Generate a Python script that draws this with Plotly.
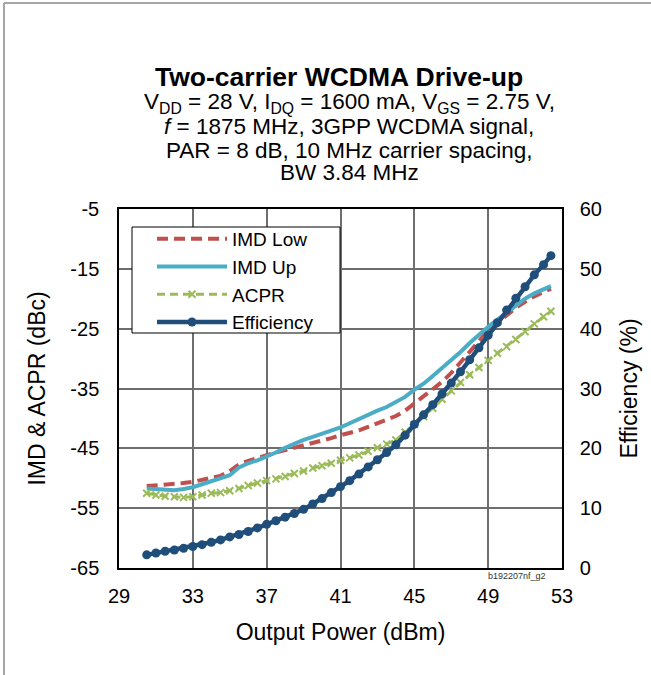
import plotly.graph_objects as go

# Output power (dBm)
pout = [30.5, 31.0, 31.5, 32.0, 32.5, 33.0, 33.5, 34.0, 34.5, 35.0,
        35.5, 36.0, 36.5, 37.0, 37.5, 38.0, 38.5, 39.0, 39.5, 40.0,
        40.5, 41.0, 41.5, 42.0, 42.5, 43.0, 43.5, 44.0, 44.5, 45.0,
        45.5, 46.0, 46.5, 47.0, 47.5, 48.0, 48.5, 49.0, 49.5, 50.0,
        50.5, 51.0, 51.5, 52.0, 52.4]

imd_low = [-51.3, -51.2, -51.1, -51.0, -50.8, -50.6, -50.3, -50.0, -49.6, -48.8,
           -47.7, -47.1, -46.6, -46.1, -45.7, -45.3, -44.9, -44.5, -44.1, -43.8,
           -43.3, -42.8, -42.4, -42.0, -41.4, -40.8, -40.2, -39.6, -38.7, -37.5,
           -36.4, -35.3, -33.9, -32.4, -30.7, -29.0, -27.1, -25.3, -23.9, -22.8,
           -21.5, -20.5, -19.6, -18.9, -18.3]

imd_up = [-51.7, -51.8, -52.0, -52.0, -51.8, -51.5, -51.0, -50.5, -50.1, -49.5,
          -48.2, -47.5, -47.0, -46.4, -45.7, -44.9, -44.2, -43.6, -43.1, -42.6,
          -42.1, -41.5, -40.8, -40.1, -39.3, -38.7, -38.1, -37.3, -36.4, -35.2,
          -34.2, -32.9, -31.6, -30.3, -28.9, -27.4, -26.0, -24.7, -23.5, -22.3,
          -21.1, -20.0, -19.1, -18.4, -17.9]

acpr = [-52.5, -52.8, -53.0, -53.1, -53.2, -53.1, -52.8, -52.5, -52.4, -52.1,
        -51.7, -51.2, -50.8, -50.4, -50.1, -49.7, -49.2, -48.8, -48.3, -47.9,
        -47.5, -47.0, -46.6, -46.1, -45.5, -44.9, -44.3, -43.6, -42.3, -41.0,
        -39.7, -38.3, -36.8, -35.4, -34.0, -32.7, -31.5, -30.3, -29.1, -28.0,
        -26.8, -25.5, -24.2, -23.0, -22.1]

efficiency = [2.2, 2.5, 2.8, 3.0, 3.3, 3.6, 3.9, 4.3, 4.7, 5.2,
              5.6, 6.1, 6.7, 7.3, 7.9, 8.5, 9.1, 9.8, 10.7, 11.6,
              12.6, 13.6, 14.6, 15.7, 16.9, 18.1, 19.3, 20.6, 22.2, 24.0,
              25.6, 27.3, 29.1, 30.9, 32.8, 34.8, 36.8, 38.9, 41.0, 43.1,
              45.1, 47.0, 49.0, 50.7, 52.2]

x_ticks = [29, 33, 37, 41, 45, 49, 53]
y_left_ticks = [-65, -55, -45, -35, -25, -15, -5]
y_right_ticks = [0, 10, 20, 30, 40, 50, 60]

FONT = "Liberation Sans, Arial, sans-serif"
W, H = 651, 675
ML, MR, MT, MB = 119, 89, 209, 107
PW, PH = W - ML - MR, H - MT - MB


def px(xpix):
    return (xpix - ML) / PW


def py(ypix):
    return (H - MB - ypix) / PH


fig = go.Figure()
fig.add_trace(go.Scatter(x=pout, y=imd_low, name="IMD Low", mode="lines",
                         line=dict(color="#C0504D", width=4, dash="11px,6px")))
fig.add_trace(go.Scatter(x=pout, y=imd_up, name="IMD Up", mode="lines",
                         line=dict(color="#4BACC6", width=4)))
fig.add_trace(go.Scatter(x=pout, y=acpr, name="ACPR", mode="lines+markers",
                         line=dict(color="#9BBB59", width=3, dash="8px,5px"),
                         marker=dict(symbol="x-thin", size=7,
                                     line=dict(color="#9BBB59", width=2))))
fig.add_trace(go.Scatter(x=pout, y=efficiency, name="Efficiency", mode="lines+markers",
                         yaxis="y2",
                         line=dict(color="#1F4E7A", width=4.5),
                         marker=dict(symbol="circle", size=9, color="#1F4E7A")))

axis_common = dict(
    showline=True, linecolor="black", linewidth=1.5,
    tickfont=dict(family=FONT, size=20, color="black"),
    ticks="outside", tickcolor="rgba(0,0,0,0)",
    zeroline=False,
)

fig.update_layout(
    width=W, height=H,
    margin=dict(l=ML, r=MR, t=MT, b=MB),
    paper_bgcolor="white", plot_bgcolor="white",
    font=dict(family=FONT, color="black"),
    showlegend=True,
    legend=dict(x=px(132), y=py(220), xanchor="left", yanchor="top",
                bgcolor="rgba(0,0,0,0)", borderwidth=0,
                font=dict(family=FONT, size=19, color="black"),
                itemwidth=70, indentation=20, tracegroupgap=0),
    xaxis=dict(range=[29, 53], tickvals=x_ticks, ticktext=[str(v) for v in x_ticks],
               showgrid=True, gridcolor="#6e6e6e", gridwidth=1.5, mirror=True, ticklen=9,
               title=dict(text="Output Power (dBm)", font=dict(family=FONT, size=23),
                          standoff=18),
               **axis_common),
    yaxis=dict(range=[-65, -5], tickvals=y_left_ticks, ticktext=[str(v) for v in y_left_ticks],
               showgrid=True, gridcolor="#6e6e6e", gridwidth=1.5, mirror=True, ticklen=14,
               title=dict(text="IMD & ACPR (dBc)", font=dict(family=FONT, size=23),
                          standoff=18),
               **axis_common),
    yaxis2=dict(range=[0, 60], tickvals=y_right_ticks, ticktext=[str(v) for v in y_right_ticks],
                overlaying="y", side="right", showgrid=False, ticklen=12,
                title=dict(text="Efficiency (%)", font=dict(family=FONT, size=23),
                           standoff=20),
                **axis_common),
)

# Legend frame (opaque box behind the legend entries)
fig.add_shape(type="rect", xref="paper", yref="paper",
              x0=px(132), x1=px(340), y0=py(333), y1=py(227),
              line=dict(color="black", width=1), fillcolor="white", layer="above")

# Title block
fig.add_annotation(text="<b>Two-carrier WCDMA Drive-up</b>", x=px(339), y=py(77),
                   xref="paper", yref="paper", showarrow=False, xanchor="center", yanchor="middle",
                   font=dict(family=FONT, size=26.5, color="black"))
sub_lines = [
    ("V<sub>DD</sub> = 28 V, I<sub>DQ</sub> = 1600 mA, V<sub>GS</sub> = 2.75 V,", 103),
    ("<i>f</i> = 1875 MHz, 3GPP WCDMA signal,", 127),
    ("PAR = 8 dB, 10 MHz carrier spacing,", 150),
    ("BW 3.84 MHz", 172),
]
for txt, ypix in sub_lines:
    fig.add_annotation(text=txt, x=px(349), y=py(ypix), xref="paper", yref="paper",
                       showarrow=False, xanchor="center", yanchor="middle",
                       font=dict(family=FONT, size=22.5, color="black"))

fig.add_annotation(text="b192207nf_g2", x=px(517), y=py(576), xref="paper", yref="paper",
                   showarrow=False, xanchor="center", yanchor="middle",
                   font=dict(family=FONT, size=9, color="#333333"))

# Outer frame (top and left edges visible as in the source image)
frame = dict(color="#a6a6a6", width=2)
fig.add_shape(type="line", xref="paper", yref="paper",
              x0=px(4), x1=px(W), y0=py(3), y1=py(3), line=frame, layer="below")
fig.add_shape(type="line", xref="paper", yref="paper",
              x0=px(4), x1=px(4), y0=py(3), y1=py(H), line=frame, layer="below")

fig.write_html("out.html", config={"displayModeBar": False},
               post_script="document.body.style.margin='0';")
